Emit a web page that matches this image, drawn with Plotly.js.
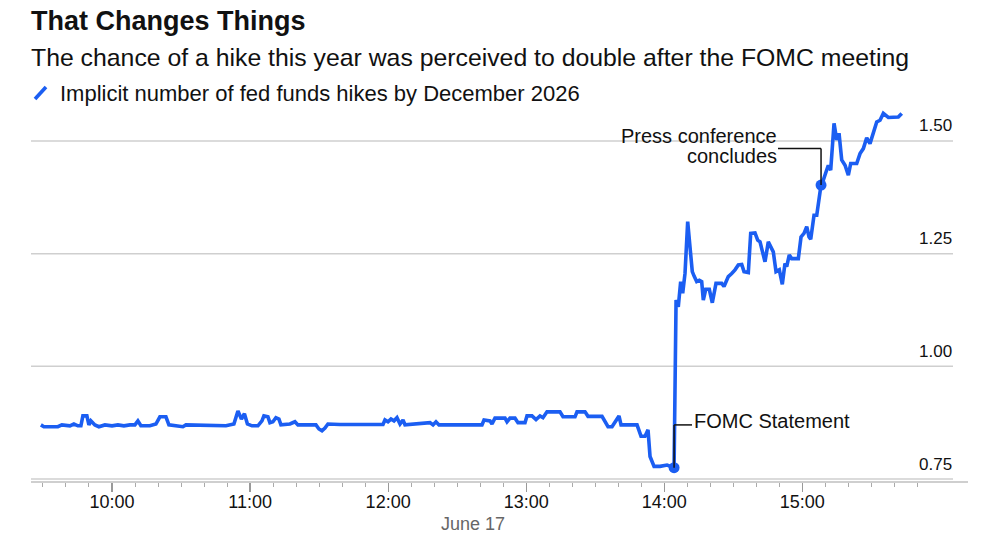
<!DOCTYPE html>
<html>
<head>
<meta charset="utf-8">
<script src="https://cdn.plot.ly/plotly-3.0.1.min.js"></script>
<style>
  html, body { margin: 0; padding: 0; background: #ffffff; }
  #chart { width: 1000px; height: 545px; }
</style>
</head>
<body>
<div id="chart"></div>
<script>
// Trading day the intraday series belongs to
const day = '2026-06-17';

// Intraday timestamps (HH:MM:SS)
const times = [
  '09:29:06','09:30:24','09:36:29','09:38:13','09:41:42','09:43:26','09:45:11','09:46:29','09:47:21','09:49:05',
  '09:49:58','09:50:50','09:52:34','09:54:18','09:56:55','10:00:00','10:02:34','10:05:10','10:07:47','10:09:57',
  '10:11:15','10:12:34','10:16:28','10:19:05','10:20:49','10:23:26','10:24:44','10:27:46','10:30:49','10:32:07',
  '10:38:12','10:47:46','10:49:31','10:52:59','10:53:52','10:54:44','10:56:15','10:57:33','10:58:51','11:00:49',
  '11:03:25','11:05:10','11:06:01','11:07:46','11:08:38','11:09:56','11:11:14','11:12:33','11:13:25','11:17:20',
  '11:19:30','11:20:48','11:28:38','11:29:56','11:31:15','11:32:33','11:33:51','11:39:04','11:57:46','11:58:38',
  '11:59:56','12:01:14','12:02:33','12:03:51','12:05:10','12:06:28','12:07:20','12:12:07','12:18:12','12:19:30',
  '12:20:48','12:22:06','12:26:53','12:40:47','12:41:40','12:44:16','12:45:08','12:46:26','12:50:47','12:51:40',
  '12:52:58','12:55:08','12:56:26','12:59:29','13:00:21','13:02:31','13:04:16','13:06:00','13:07:18','13:09:02',
  '13:14:41','13:16:00','13:21:13','13:22:05','13:25:34','13:26:52','13:32:57','13:35:34','13:37:18','13:40:20',
  '13:41:13','13:48:10','13:49:54','13:51:38','13:52:57','13:53:49','13:55:34','13:58:10','14:01:13','14:04:16',
  '14:05:08','14:06:06','14:07:08','14:08:01','14:09:01','14:10:11','14:11:11','14:12:11','14:13:04','14:14:06',
  '14:15:14','14:16:16','14:16:58','14:18:01','14:19:34','14:20:53','14:22:29','14:24:58','14:25:58','14:27:50',
  '14:29:19','14:30:45','14:32:11','14:33:40','14:34:40','14:36:32','14:37:34','14:39:26','14:40:37','14:41:37',
  '14:43:47','14:45:13','14:47:23','14:48:34','14:50:00','14:51:18','14:52:28','14:53:13','14:54:20','14:55:23',
  '14:58:16','14:59:26','15:00:44','15:01:55','15:02:55','15:03:39','15:05:05','15:06:16','15:08:08','15:09:08',
  '15:10:18','15:11:18','15:12:20','15:13:47','15:14:57','15:15:57','15:17:07','15:18:34','15:20:00','15:21:02',
  '15:23:38','15:25:05','15:26:31','15:27:59','15:29:25','15:30:52','15:32:20','15:33:46','15:35:12','15:37:23',
  '15:41:43','15:43:12'
];

// Implied number of fed funds hikes by December 2026
const hikes = [
  0.870,0.866,0.866,0.870,0.868,0.872,0.868,0.868,0.890,0.890,
  0.870,0.879,0.870,0.866,0.870,0.868,0.870,0.868,0.870,0.870,
  0.879,0.868,0.868,0.872,0.888,0.888,0.870,0.868,0.866,0.870,
  0.870,0.870,0.868,0.872,0.888,0.901,0.883,0.895,0.872,0.868,
  0.868,0.879,0.890,0.888,0.875,0.877,0.886,0.883,0.870,0.872,
  0.877,0.870,0.870,0.861,0.857,0.863,0.872,0.871,0.871,0.881,
  0.877,0.883,0.879,0.886,0.872,0.881,0.870,0.872,0.875,0.870,
  0.877,0.870,0.870,0.870,0.881,0.879,0.872,0.885,0.885,0.877,
  0.885,0.885,0.875,0.875,0.890,0.890,0.882,0.890,0.886,0.899,
  0.899,0.888,0.888,0.899,0.899,0.889,0.889,0.866,0.866,0.890,
  0.870,0.870,0.845,0.845,0.859,0.800,0.778,0.778,0.781,0.775,
  1.147,1.132,1.188,1.162,1.206,1.321,1.265,1.210,1.199,1.188,
  1.191,1.188,1.147,1.171,1.171,1.141,1.184,1.184,1.177,1.199,
  1.206,1.214,1.225,1.226,1.210,1.208,1.295,1.296,1.280,1.276,
  1.232,1.276,1.254,1.210,1.214,1.182,1.228,1.221,1.247,1.239,
  1.239,1.287,1.295,1.310,1.287,1.282,1.335,1.335,1.402,1.413,
  1.431,1.446,1.435,1.539,1.502,1.517,1.458,1.446,1.424,1.450,
  1.450,1.472,1.483,1.507,1.494,1.516,1.542,1.546,1.561,1.552,
  1.553,1.561
];

// Marked events
const eventTimes = ['14:04:16', '15:08:08'];
const eventValues = [0.775, 1.402];

// Hour ticks on the time axis
const xTicks = ['10:00', '11:00', '12:00', '13:00', '14:00', '15:00'];
// Ten-minute minor ticks span 09:30 to 15:50
const minorStart = '09:30', minorEnd = '15:50', minorStepMin = 10;

// Right-hand value axis
const yTicks = [0.75, 1.00, 1.25, 1.50];
const yTickLabels = ['0.75', '1.00', '1.25', '1.50'];

// Text
const titleText = 'That Changes Things';
const subtitleText = 'The chance of a hike this year was perceived to double after the FOMC meeting';
const seriesName = 'Implicit number of fed funds hikes by December 2026';
const dateLabel = 'June 17';
const fomcLabel = 'FOMC Statement';
const pressLabel = ['Press conference', 'concludes'];

const BLUE = '#1b5ef2';
const INK = '#111111';
const FONT = '"Liberation Sans", Arial, Helvetica, sans-serif';

const ts = t => day + ' ' + t;
const pad = n => String(n).padStart(2, '0');
const toMin = hm => { const [h, m] = hm.split(':').map(Number); return h * 60 + m; };

const minorVals = [];
for (let m = toMin(minorStart); m <= toMin(minorEnd); m += minorStepMin) {
  minorVals.push(ts(pad(Math.floor(m / 60)) + ':' + pad(m % 60) + ':00'));
}

// Figure geometry (px)
const W = 1000, H = 545;
const M = { l: 31, r: 32, t: 105, b: 64 };
const plotW = W - M.l - M.r;
const plotH = H - M.t - M.b;
const px2paperX = px => (px - M.l) / plotW;
const px2paperY = py => (H - M.b - py) / plotH;

const line = {
  type: 'scatter', mode: 'lines',
  x: times.map(ts), y: hikes,
  line: { color: BLUE, width: 3.6 },
  hoverinfo: 'skip', showlegend: false
};

const dots = {
  type: 'scatter', mode: 'markers',
  x: eventTimes.map(ts), y: eventValues,
  marker: { color: BLUE, size: 11 },
  hoverinfo: 'skip', showlegend: false
};

// Leader-line elbows for the event notes
const fomcElbow = { t: '14:12:03', v: 0.870 };
const pressElbow = { t: '14:49:26', v: 1.483 };

const leader = (t0, v0, t1, v1) => ({
  type: 'line', xref: 'x', yref: 'y',
  x0: ts(t0), y0: v0, x1: ts(t1), y1: v1,
  line: { color: '#111111', width: 1.5 }
});

const shapes = [];
// horizontal gridlines, stopping short of the right edge
yTicks.forEach(v => shapes.push({
  type: 'line', xref: 'paper', yref: 'y',
  x0: 0, x1: px2paperX(953), y0: v, y1: v,
  line: { color: '#cfcfcf', width: 1.5 }, layer: 'below'
}));
// FOMC leader: up from the dot, then right to the label
shapes.push(leader(eventTimes[0], eventValues[0], eventTimes[0], fomcElbow.v));
shapes.push(leader(eventTimes[0], fomcElbow.v, fomcElbow.t, fomcElbow.v));
// Press-conference leader: from the label end right, then down to the dot
shapes.push(leader(pressElbow.t, pressElbow.v, eventTimes[1], pressElbow.v));
shapes.push(leader(eventTimes[1], pressElbow.v, eventTimes[1], eventValues[1]));
// legend key: short slanted stroke
shapes.push({
  type: 'line', xref: 'paper', yref: 'paper',
  x0: px2paperX(35), y0: px2paperY(99), x1: px2paperX(46), y1: px2paperY(87),
  line: { color: BLUE, width: 3.6 }
});

const annotations = [];
yTicks.forEach((v, i) => annotations.push({
  xref: 'paper', yref: 'y', x: px2paperX(954), y: v,
  xanchor: 'right', yanchor: 'middle', yshift: 15,
  text: yTickLabels[i], showarrow: false,
  font: { family: FONT, size: 17, color: INK }
}));
annotations.push({
  xref: 'paper', yref: 'paper', x: px2paperX(29), y: px2paperY(57),
  xanchor: 'left', yanchor: 'middle', showarrow: false,
  text: subtitleText, font: { family: FONT, size: 24.8, color: INK }
});
annotations.push({
  xref: 'paper', yref: 'paper', x: px2paperX(58), y: px2paperY(93),
  xanchor: 'left', yanchor: 'middle', showarrow: false,
  text: seriesName, font: { family: FONT, size: 22, color: INK }
});
annotations.push({
  xref: 'paper', yref: 'paper', x: px2paperX(473), y: px2paperY(524),
  xanchor: 'center', yanchor: 'middle', showarrow: false,
  text: dateLabel, font: { family: FONT, size: 18, color: '#666666' }
});
annotations.push({
  xref: 'x', yref: 'y', x: ts(fomcElbow.t), y: fomcElbow.v,
  xanchor: 'left', yanchor: 'middle', yshift: 4, xshift: 0, showarrow: false,
  text: fomcLabel, font: { family: FONT, size: 20, color: INK }
});
annotations.push({
  xref: 'x', yref: 'y', x: ts(pressElbow.t), y: pressElbow.v,
  xanchor: 'right', yanchor: 'middle', yshift: 13, xshift: 1, showarrow: false,
  text: pressLabel[0], font: { family: FONT, size: 20, color: INK }
});
annotations.push({
  xref: 'x', yref: 'y', x: ts(pressElbow.t), y: pressElbow.v,
  xanchor: 'right', yanchor: 'middle', yshift: -7, xshift: 1, showarrow: false,
  text: pressLabel[1], font: { family: FONT, size: 20, color: INK }
});

const layout = {
  width: W, height: H,
  margin: M,
  paper_bgcolor: '#ffffff', plot_bgcolor: '#ffffff',
  font: { family: FONT, color: INK },
  title: {
    text: '<b>' + titleText + '</b>',
    xref: 'container', yref: 'container',
    x: 0.031, xanchor: 'left', y: 1 - 21 / H, yanchor: 'middle',
    font: { family: FONT, size: 27, color: INK }
  },
  xaxis: {
    type: 'date',
    range: [ts('09:24:48'), ts('16:12:00')],
    tickmode: 'array',
    tickvals: xTicks.map(t => ts(t + ':00')),
    ticktext: xTicks,
    ticks: 'outside', ticklen: 9, tickwidth: 1.2, tickcolor: '#999999',
    ticklabelstandoff: -6,
    minor: { tickmode: 'array', tickvals: minorVals, ticks: 'outside', ticklen: 4, tickwidth: 1, tickcolor: '#aaaaaa', showgrid: false },
    showline: true, linecolor: '#cfcfcf', linewidth: 2,
    showgrid: false, zeroline: false,
    tickfont: { family: FONT, size: 18, color: INK },
    fixedrange: true
  },
  yaxis: {
    range: [0.75 - 2 / 451.5, 1.50 + 36 / 451.5],
    showticklabels: false, ticks: '', showgrid: false, zeroline: false, showline: false,
    fixedrange: true
  },
  shapes: shapes,
  annotations: annotations,
  showlegend: false
};

Plotly.newPlot('chart', [line, dots], layout, { staticPlot: true, displayModeBar: false });
</script>
</body>
</html>
